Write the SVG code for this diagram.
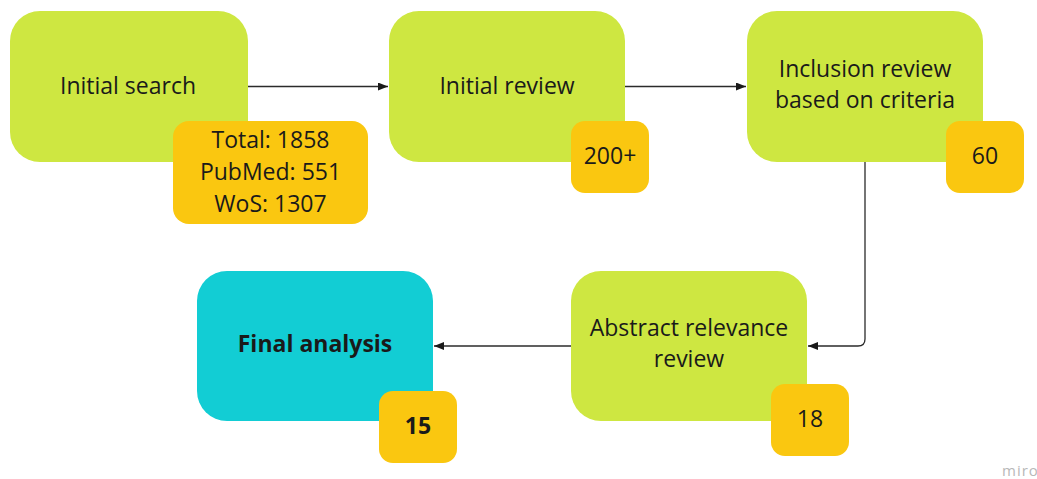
<svg xmlns="http://www.w3.org/2000/svg" width="1037" height="479" viewBox="0 0 1037 479">
<defs>
<style>
.step{fill:#CEE741;}
.final{fill:#12CDD4;}
.badge{fill:#FAC710;}
.t{font-family:"Open Sans","Noto Sans","Liberation Sans",sans-serif;font-size:23px;fill:#1a1a1a;text-anchor:middle;}
.b{font-weight:bold;font-size:23px;}
.edge{fill:none;stroke:#2b2b2b;stroke-width:1.3;marker-end:url(#arr);}
.wm{font-family:"Open Sans","Liberation Sans",sans-serif;font-size:15px;fill:#b8b8b8;letter-spacing:1px;}
</style>
<marker id="arr" viewBox="0 0 10 8" refX="10" refY="4" markerWidth="10" markerHeight="8" markerUnits="userSpaceOnUse" orient="auto">
<path d="M0,0 L10,4 L0,8 Z" fill="#1a1a1a"/>
</marker>
</defs>
<rect width="1037" height="479" fill="#ffffff"/>
<g id="connectors">
<path class="edge" d="M248,86.5 H388"/>
<path class="edge" d="M625,86.5 H746"/>
<path class="edge" d="M865,162 V339 Q865,346 858,346 H808"/>
<path class="edge" d="M571,346 H434"/>
</g>
<g id="initial-search">
<rect class="step" x="10" y="11" width="238" height="151" rx="30"/>
<text class="t" x="128" y="94">Initial search</text>
</g>
<g id="initial-search-count">
<rect class="badge" x="173" y="121" width="195" height="103" rx="16"/>
<text class="t" x="270.5" y="148">Total: 1858</text>
<text class="t" x="270.5" y="180">PubMed: 551</text>
<text class="t" x="270.5" y="212">WoS: 1307</text>
</g>
<g id="initial-review">
<rect class="step" x="389" y="11" width="236" height="151" rx="30"/>
<text class="t" x="507" y="94">Initial review</text>
</g>
<g id="initial-review-count">
<rect class="badge" x="571" y="121" width="78" height="72" rx="14"/>
<text class="t" x="610" y="164">200+</text>
</g>
<g id="inclusion-review">
<rect class="step" x="747" y="11" width="236" height="151" rx="30"/>
<text class="t" x="865" y="77">Inclusion review</text>
<text class="t" x="865" y="108">based on criteria</text>
</g>
<g id="inclusion-review-count">
<rect class="badge" x="946" y="121" width="78" height="72" rx="14"/>
<text class="t" x="985" y="164">60</text>
</g>
<g id="abstract-review">
<rect class="step" x="571" y="271" width="236" height="150" rx="30"/>
<text class="t" x="689" y="336">Abstract relevance</text>
<text class="t" x="689" y="367">review</text>
</g>
<g id="abstract-review-count">
<rect class="badge" x="771" y="384" width="78" height="72" rx="14"/>
<text class="t" x="810" y="427">18</text>
</g>
<g id="final-analysis">
<rect class="final" x="197" y="271" width="236" height="150" rx="30"/>
<text class="t b" x="315" y="352">Final analysis</text>
</g>
<g id="final-analysis-count">
<rect class="badge" x="379" y="391" width="78" height="72" rx="14"/>
<text class="t b" x="418" y="434">15</text>
</g>
<text class="wm" x="1002" y="476">miro</text>
</svg>
